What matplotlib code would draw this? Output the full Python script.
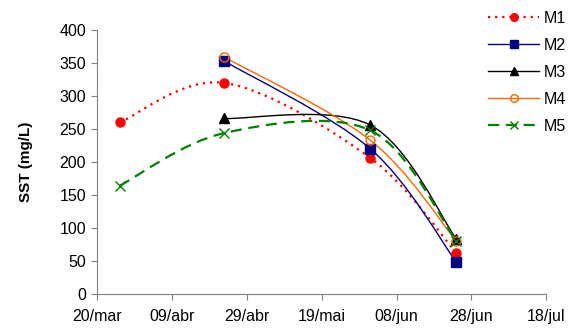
import numpy as np
import matplotlib
matplotlib.use('Agg')
import matplotlib.pyplot as plt
import matplotlib.dates as mdates
from matplotlib.path import Path
from matplotlib.patches import PathPatch
import datetime as dt

plt.rcParams['font.family'] = ['Liberation Sans', 'DejaVu Sans']

# data
dates_m1 = ['2007-03-26', '2007-04-23', '2007-06-01', '2007-06-24']
m1 = [260, 320, 206, 62]
dates_m2 = ['2007-04-23', '2007-06-01', '2007-06-24']
m2 = [353, 220, 48]
dates_m3 = ['2007-04-23', '2007-06-01', '2007-06-24']
m3 = [266, 256, 83]
dates_m4 = ['2007-04-23', '2007-06-01', '2007-06-24']
m4 = [359, 233, 80]
dates_m5 = ['2007-03-26', '2007-04-23', '2007-06-01', '2007-06-24']
m5 = [164, 244, 248, 80]
tick_dates = ['2007-03-20', '2007-04-09', '2007-04-29', '2007-05-19',
              '2007-06-08', '2007-06-28', '2007-07-18']
tick_labels = ['20/mar', '09/abr', '29/abr', '19/mai', '08/jun', '28/jun', '18/jul']


def to_num(ds):
    return mdates.date2num([dt.datetime.strptime(d, '%Y-%m-%d') for d in ds])


def smooth_path(x, y):
    # excel-like smoothed line: cubic bezier, catmull-rom control points
    p = np.column_stack([x, y]).astype(float)
    n = len(p)
    verts = [p[0]]
    codes = [Path.MOVETO]
    for i in range(n - 1):
        p0 = p[i - 1] if i > 0 else p[i]
        p3 = p[i + 2] if i + 2 < n else p[i + 1]
        c1 = p[i] + (p[i + 1] - p0) / 6
        c2 = p[i + 1] - (p3 - p[i]) / 6
        verts += [c1, c2, p[i + 1]]
        codes += [Path.CURVE4] * 3
    return Path(verts, codes)


fig = plt.figure(figsize=(5.75, 3.31), dpi=100)
ax = fig.add_axes([0.169, 0.112, 0.781, 0.797])

series = [
    ('M1', dates_m1, m1, 'red', ':', 'o', 'red'),
    ('M2', dates_m2, m2, '#000080', '-', 's', '#000080'),
    ('M3', dates_m3, m3, 'black', '-', '^', 'black'),
    ('M4', dates_m4, m4, '#FF6600', '-', 'o', 'none'),
    ('M5', dates_m5, m5, '#008000', '--', 'x', '#008000'),
]

for name, ds, vals, col, ls, mk, fc in series:
    x = to_num(ds)
    lw = 1.6 if ls != '-' else 1.0
    dash = (0, (1, 2.2)) if ls == ':' else ((0, (5, 3)) if ls == '--' else '-')
    patch = PathPatch(smooth_path(x, vals), facecolor='none', edgecolor=col,
                      linestyle=dash, linewidth=lw)
    ax.add_patch(patch)
    ax.plot(x, vals, linestyle='none', marker=mk, color=col,
            markerfacecolor=fc, markeredgecolor=col, markersize=6.5,
            markeredgewidth=1.0)
    # legend proxy
    ax.plot([], [], linestyle=dash, color=col, linewidth=lw, marker=mk,
            markerfacecolor=fc, markeredgecolor=col, markersize=5.5,
            label=name)

ax.set_xlim(to_num(['2007-03-20'])[0], to_num(['2007-07-18'])[0])
ax.set_ylim(0, 400)
ax.set_yticks(np.arange(0, 401, 50))
ax.set_xticks(to_num(tick_dates))
ax.set_xticklabels(tick_labels)
ax.tick_params(labelsize=11.5, length=4, color='#808080', pad=4)
ax.tick_params(axis='x', pad=7)
for s in ['top', 'right']:
    ax.spines[s].set_visible(False)
for s in ['left', 'bottom']:
    ax.spines[s].set_color('#808080')
ax.set_ylabel('SST (mg/L)', fontsize=11, fontweight='bold', labelpad=19)

fig.legend(loc='upper left', bbox_to_anchor=(488 / 575, 1 - 11 / 331),
           frameon=False, fontsize=11.5, handlelength=3.2, handletextpad=0.3,
           labelspacing=0.75, borderpad=0, borderaxespad=0)

fig.savefig('out.png', dpi=100)
